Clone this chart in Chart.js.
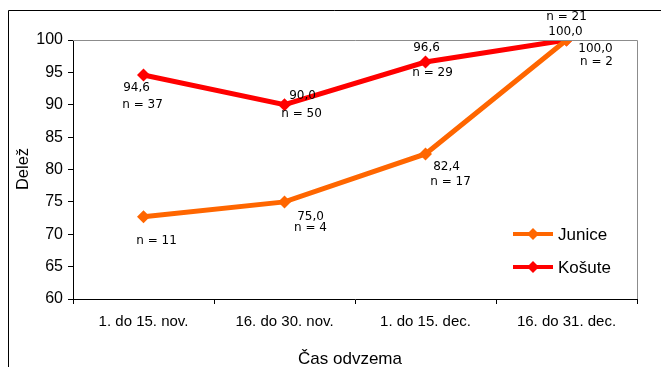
<!DOCTYPE html>
<html>
<head>
<meta charset="utf-8">
<script src="https://cdn.jsdelivr.net/npm/chart.js@4"></script>
<style>
  html, body { margin: 0; padding: 0; background: #fff; }
  #wrap { width: 661px; height: 367px; position: relative; }
</style>
</head>
<body>
<div id="wrap"><canvas id="c" width="661" height="367"></canvas></div>
<script>
// Obdobja odvzema
const categories = ['1. do 15. nov.', '16. do 30. nov.', '1. do 15. dec.', '16. do 31. dec.'];
// Delež (%) po obdobjih
const juniceValues = [72.7, 75.0, 82.4, 100.0];
const kosuteValues = [94.6, 90.0, 96.6, 100.0];
// Velikost vzorca
const juniceN = [11, 4, 17, 2];
const kosuteN = [37, 50, 29, 21];
// Ali je ob točki izpisana vrednost
const juniceShowValue = [false, true, true, true];
const kosuteShowValue = [true, true, true, true];
const yTicks = [60, 65, 70, 75, 80, 85, 90, 95, 100];

const ORANGE = '#FF6600';
const RED = '#FF0000';
const fmt = v => v.toFixed(1).replace('.', ',');

// Odmiki napisov od točk: [dx, dy vrednosti, dx, dy n]
const labelOffsets = {
  junice: [[0, 0, 13, 24], [26, 15, 26, 26], [21, 13, 25, 28], [29, 9, 30, 22]],
  kosute: [[-7, 13, -1, 30], [18, -9, 17, 9], [1, -14, 7, 11], [-1, -8, 0, -23]]
};

const framePlugin = {
  id: 'frame',
  beforeDraw(chart) {
    const ctx = chart.ctx;
    ctx.save();
    ctx.strokeStyle = '#000';
    ctx.lineWidth = 1;
    ctx.beginPath();
    ctx.moveTo(8.5, 367);
    ctx.lineTo(8.5, 10.5);
    ctx.lineTo(661, 10.5);
    ctx.stroke();
    ctx.restore();
  },
  afterDatasetsDraw(chart) {
    const ctx = chart.ctx;
    const a = chart.chartArea;
    const xs = chart.scales.x, ys = chart.scales.y;
    ctx.save();
    // siv okvir risalne površine (zgoraj in desno)
    ctx.strokeStyle = '#8c8c8c';
    ctx.lineWidth = 1;
    ctx.beginPath();
    ctx.moveTo(a.left, Math.round(a.top) + 0.5);
    ctx.lineTo(Math.round(a.right) + 0.5, Math.round(a.top) + 0.5);
    ctx.lineTo(Math.round(a.right) + 0.5, a.bottom);
    ctx.stroke();

    // napisi ob točkah
    ctx.font = '12px "DejaVu Sans"';
    ctx.fillStyle = '#000';
    ctx.textAlign = 'center';
    ctx.textBaseline = 'middle';
    const series = [
      ['junice', juniceValues, juniceN, juniceShowValue],
      ['kosute', kosuteValues, kosuteN, kosuteShowValue]
    ];
    series.forEach(([key, vals, ns, show]) => {
      vals.forEach((v, i) => {
        const px = xs.getPixelForValue(i);
        const py = ys.getPixelForValue(v);
        const o = labelOffsets[key][i];
        if (show[i]) ctx.fillText(fmt(v), px + o[0], py + o[1]);
        ctx.fillText('n = ' + ns[i], px + o[2], py + o[3]);
      });
    });

    // legenda
    const items = [['Junice', ORANGE, 234], ['Košute', RED, 267]];
    ctx.font = '17px "Liberation Sans"';
    ctx.textAlign = 'left';
    items.forEach(([name, col, y]) => {
      ctx.strokeStyle = col;
      ctx.lineWidth = 4;
      ctx.beginPath();
      ctx.moveTo(513, y);
      ctx.lineTo(553, y);
      ctx.stroke();
      ctx.fillStyle = col;
      ctx.beginPath();
      ctx.moveTo(533, y - 6);
      ctx.lineTo(539, y);
      ctx.lineTo(533, y + 6);
      ctx.lineTo(527, y);
      ctx.closePath();
      ctx.fill();
      ctx.fillStyle = '#000';
      ctx.fillText(name, 558, y + 1);
    });

    // naslova osi
    ctx.font = '17px "Liberation Sans"';
    ctx.textAlign = 'center';
    ctx.fillText('Čas odvzema', 350, 359);
    ctx.font = '16.5px "Liberation Sans"';
    ctx.translate(23, 169);
    ctx.rotate(-Math.PI / 2);
    ctx.fillText('Delež', 0, 0);
    ctx.restore();
  }
};

new Chart(document.getElementById('c'), {
  type: 'line',
  data: {
    labels: categories,
    datasets: [
      {
        label: 'Junice',
        data: juniceValues,
        borderColor: ORANGE,
        backgroundColor: ORANGE,
        borderWidth: 5,
        pointStyle: 'rectRot',
        pointRadius: 6.5,
        pointBorderWidth: 0,
        tension: 0
      },
      {
        label: 'Košute',
        data: kosuteValues,
        borderColor: RED,
        backgroundColor: RED,
        borderWidth: 5,
        pointStyle: 'rectRot',
        pointRadius: 6.5,
        pointBorderWidth: 0,
        tension: 0
      }
    ]
  },
  options: {
    responsive: false,
    animation: false,
    devicePixelRatio: 1,
    layout: { padding: { left: 0, top: 40, right: 24, bottom: 0 } },
    plugins: {
      legend: { display: false },
      tooltip: { enabled: false }
    },
    scales: {
      x: {
        offset: true,
        afterFit: s => { s.height = 68; },
        grid: {
          offset: true,
          drawOnChartArea: false,
          drawTicks: true,
          tickLength: 5,
          color: '#000'
        },
        border: { color: '#000', width: 1 },
        ticks: {
          color: '#000',
          font: { family: 'Liberation Sans', size: 15 },
          padding: 9,
          maxRotation: 0
        }
      },
      y: {
        min: 60,
        max: 100,
        afterFit: s => { s.width = 73; },
        afterBuildTicks: s => { s.ticks = yTicks.map(v => ({ value: v })); },
        grid: {
          drawOnChartArea: false,
          drawTicks: true,
          tickLength: 5,
          color: '#000'
        },
        border: { color: '#000', width: 1 },
        ticks: {
          color: '#000',
          font: { family: 'Liberation Sans', size: 16 },
          padding: 5
        }
      }
    }
  },
  plugins: [framePlugin]
});
</script>
</body>
</html>
